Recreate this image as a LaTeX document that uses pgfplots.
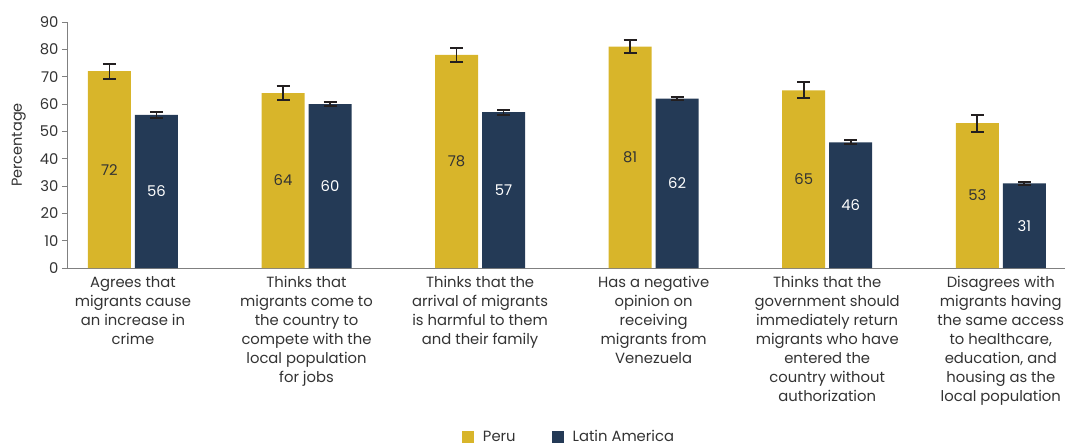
\documentclass[border=0pt]{standalone}
\usepackage{pgfplots}
\pgfplotsset{compat=1.18}
\usepackage{fontspec}
\setmainfont{Poppins}
\definecolor{peru}{HTML}{D8B52A}
\definecolor{latam}{HTML}{243A56}
\definecolor{txt}{HTML}{333333}
\definecolor{axisgray}{HTML}{808080}
\definecolor{errc}{HTML}{231F20}
\begin{document}
\begin{tikzpicture}
\begin{axis}[name=ax, scale only axis, width=998pt, height=246pt,
  ymin=0, ymax=90, ytick={0,10,...,90},
  xmin=-0.38, xmax=5.37,
  axis x line*=bottom, axis y line*=left,
  axis line style={axisgray, line width=0.8pt},
  ybar=4pt, bar width=43pt,
  xtick={0,...,5},
  xticklabels={{Agrees that\\migrants cause\\an increase in\\crime},
    {Thinks that\\migrants come to\\the country to\\compete with the\\local population\\for jobs},
    {Thinks that the\\arrival of migrants\\is harmful to them\\and their family},
    {Has a negative\\opinion on\\receiving\\migrants from\\Venezuela},
    {Thinks that the\\government should\\immediately return\\migrants who have\\entered the\\country without\\authorization},
    {Disagrees with\\migrants having\\the same access\\to healthcare,\\education, and\\housing as the\\local population}},
  x tick style={draw=none},
  y tick style={axisgray, line width=0.8pt},
  tick align=outside, major tick length=5pt,
  tick label style={font=\fontsize{14.8}{19}\selectfont, text=txt},
  xticklabel style={align=center, anchor=north, yshift=0pt},
  /pgf/number format/assume math mode=true,
  ylabel={Percentage}, ylabel style={font=\fontsize{14.5}{17}\selectfont, text=txt, yshift=7pt},
  nodes near coords, nodes near coords align=center,
  visualization depends on={rawy \as \rawy},
  every node near coord/.append style={font=\fontsize{14.8}{17}\selectfont, yshift=-\rawy*1.366667pt},
  error bars/y dir=both, error bars/y explicit,
  error bars/error bar style={errc, line width=1.6pt},
  error bars/error mark options={errc, rotate=90, mark size=6.5pt, line width=2pt},
  legend style={at={(0.5,0)}, anchor=center, yshift=-169pt, xshift=3pt, draw=none, fill=none,
    legend columns=2, font=\fontsize{14.8}{17}\selectfont, text=txt,
    /tikz/every odd column/.append style={column sep=7pt},
    /tikz/every even column/.append style={column sep=34pt}},
  legend image code/.code={\fill[#1] (0pt,-6pt) rectangle (12pt,6pt);},
]
\addplot[fill=peru, draw=none, every node near coord/.append style={text=txt}]
  coordinates {(0,72) +- (0,2.75) (1,64) +- (0,2.6) (2,78) +- (0,2.6) (3,81) +- (0,2.5) (4,65) +- (0,2.9) (5,53) +- (0,3.1)};
\addplot[fill=latam, draw=none, every node near coord/.append style={text=white}]
  coordinates {(0,56) +- (0,1.0) (1,60) +- (0,0.9) (2,57) +- (0,0.9) (3,62) +- (0,0.4) (4,46) +- (0,0.7) (5,31) +- (0,0.5)};
\legend{Peru, Latin America}
\end{axis}
\path ([shift={(-67pt,-175pt)}]ax.south west) rectangle ([shift={(3pt,22pt)}]ax.north east);
\end{tikzpicture}
\end{document}
